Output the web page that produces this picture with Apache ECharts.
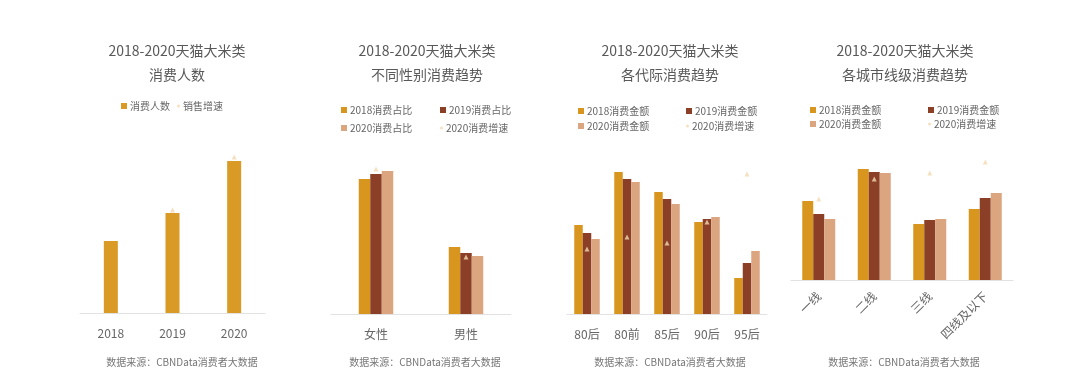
<!DOCTYPE html>
<html><head><meta charset="utf-8">
<script src="https://cdn.jsdelivr.net/npm/echarts@6/dist/echarts.min.js"></script>
<style>html,body{margin:0;padding:0;background:#fff}#c{width:1080px;height:376px}</style>
</head><body><div id="c"></div>
<script>
// Panel 1: consumers
const p1Categories = ['2018', '2019', '2020'];
const p1Users = [72, 100, 152];
const p1Growth = [null, 103, 156];
// Panel 2: gender
const p2Categories = ['女性', '男性'];
const p2Share2018 = [135, 67];
const p2Share2019 = [140, 61];
const p2Share2020 = [143, 58];
const p2Growth = [145, 57];
// Panel 3: generations
const p3Categories = ['80后', '80前', '85后', '90后', '95后'];
const p3Amount2018 = [89, 142, 122, 92, 36];
const p3Amount2019 = [81, 135, 115, 95, 51];
const p3Amount2020 = [75, 132, 110, 97, 63];
const p3Growth = [65, 77, 71, 92, 140];
// Panel 4: city tiers
const p4Categories = ['一线', '二线', '三线', '四线及以下'];
const p4Amount2018 = [79, 111, 56, 71];
const p4Amount2019 = [66, 108, 60, 82];
const p4Amount2020 = [61, 107, 61, 87];
const p4Growth = [81, 101, 107, 118];

const C18 = '#D8961F', C19 = '#8A3F26', C20 = '#DBA57F', CG = '#F2DAB2', C1 = '#D99A26';
const FONT = '"Noto Sans CJK SC", "Noto Sans", sans-serif';
const source = '数据来源：CBNData消费者大数据';

const chart = echarts.init(document.getElementById('c'), null, {renderer: 'canvas'});

function mkTitle(text, cx) {
  return {text: text, left: cx, top: 34, textAlign: 'center',
    textStyle: {fontFamily: FONT, fontSize: 14, fontWeight: 'normal', color: '#595959', lineHeight: 24}};
}
function mkSrc(cx) {
  return {text: source, left: cx, top: 352, textAlign: 'center',
    textStyle: {fontFamily: FONT, fontSize: 10, fontWeight: 'normal', color: '#777'}};
}
function mkLegend(name, x, y, icon, w, h) {
  return {data: [{name: name, icon: icon}], left: x, top: y, itemWidth: w, itemHeight: h, itemGap: 0,
    padding: 0, selectedMode: false,
    textStyle: {fontFamily: FONT, fontSize: 10, color: '#666', padding: [0, 0, 0, -2]}};
}
const grids = [
  {left: 80, right: 815, top: 140, bottom: 63},
  {left: 331, right: 569, top: 140, bottom: 62},
  {left: 567, right: 313, top: 140, bottom: 62},
  {left: 791, right: 67, top: 140, bottom: 96}
];
const cats = [p1Categories, p2Categories, p3Categories, p4Categories];
const xAxes = cats.map((c, i) => ({
  type: 'category', gridIndex: i, data: c,
  axisLine: {lineStyle: {color: '#e2e2e2'}}, axisTick: {show: false},
  axisLabel: {fontFamily: FONT, fontSize: 12, color: '#666', margin: 14, rotate: i === 3 ? 45 : 0, interval: 0}
}));
const maxes = [173, 174, 174, 140];
const yAxes = maxes.map((m, i) => ({type: 'value', gridIndex: i, min: 0, max: m, show: false}));

function bar(name, data, i, color, w) {
  return {type: 'bar', name: name, xAxisIndex: i, yAxisIndex: i, data: data, barWidth: w, barGap: '0%',
    itemStyle: {color: color}, silent: true};
}
function growth(name, data, i) {
  return {type: 'scatter', name: name, xAxisIndex: i, yAxisIndex: i, data: data, symbol: 'triangle',
    symbolSize: 5, itemStyle: {color: CG}, silent: true, z: 5};
}

chart.setOption({
  backgroundColor: '#fff',
  animation: false,
  title: [
    mkTitle('2018-2020天猫大米类\n消费人数', 172),
    mkTitle('2018-2020天猫大米类\n不同性别消费趋势', 422),
    mkTitle('2018-2020天猫大米类\n各代际消费趋势', 665),
    mkTitle('2018-2020天猫大米类\n各城市线级消费趋势', 900),
    mkSrc(177), mkSrc(420), mkSrc(665), mkSrc(899)
  ],
  legend: [
    mkLegend('消费人数', 121, 101, 'rect', 6, 6),
    mkLegend('销售增速', 177, 101, 'circle', 3, 3),
    mkLegend('2018消费占比', 341, 105, 'rect', 6, 6),
    mkLegend('2019消费占比', 440, 105, 'rect', 6, 6),
    mkLegend('2020消费占比', 341, 123, 'rect', 6, 6),
    mkLegend('2020消费增速', 440, 123, 'circle', 3, 3),
    mkLegend('2018消费金额', 578, 106, 'rect', 6, 6),
    mkLegend('2019消费金额', 686, 106, 'rect', 6, 6),
    mkLegend('2020消费金额', 578, 121, 'rect', 6, 6),
    mkLegend('2020消费增速 ', 686, 121, 'circle', 3, 3),
    mkLegend('2018消费金额', 810, 105, 'rect', 6, 6),
    mkLegend('2019消费金额', 928, 105, 'rect', 6, 6),
    mkLegend('2020消费金额', 810, 119, 'rect', 6, 6),
    mkLegend('2020消费增速  ', 928, 119, 'circle', 3, 3)
  ],
  grid: grids,
  xAxis: xAxes,
  yAxis: yAxes,
  series: [
    bar('消费人数', p1Users, 0, C1, 14),
    growth('销售增速', p1Growth, 0),
    bar('2018消费占比', p2Share2018, 1, C18, 11.5),
    bar('2019消费占比', p2Share2019, 1, C19, 11.5),
    bar('2020消费占比', p2Share2020, 1, C20, 11.5),
    growth('2020消费增速', p2Growth, 1),
    bar('2018消费金额', p3Amount2018, 2, C18, 8.5),
    bar('2019消费金额', p3Amount2019, 2, C19, 8.5),
    bar('2020消费金额', p3Amount2020, 2, C20, 8.5),
    growth('2020消费增速 ', p3Growth, 2),
    bar('2018消费金额', p4Amount2018, 3, C18, 11),
    bar('2019消费金额', p4Amount2019, 3, C19, 11),
    bar('2020消费金额', p4Amount2020, 3, C20, 11),
    growth('2020消费增速  ', p4Growth, 3)
  ]
});
</script></body></html>
